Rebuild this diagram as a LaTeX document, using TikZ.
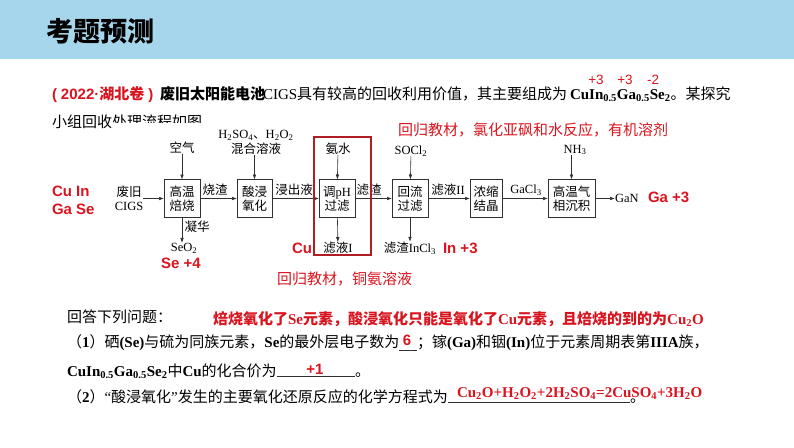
\documentclass[tikz,border=0pt]{standalone}
\usepackage{fontspec}
\setmainfont{Liberation Serif}
\newfontfamily\cjk{Noto Sans CJK SC}
\newfontfamily\arl{Liberation Sans}
\usetikzlibrary{arrows.meta}
\definecolor{hdr}{HTML}{A6D6EC}
\definecolor{rd}{HTML}{D9141E}
\definecolor{rbox}{HTML}{B01E24}
\definecolor{ln}{HTML}{303030}
\newcommand\sbs[1]{\textsubscript{#1}}
\begin{document}
\begin{tikzpicture}[x=1pt,y=-1pt,
 every node/.style={inner sep=0pt, outer sep=0pt},
 lab/.style={font=\fontsize{12.5}{14}\selectfont\cjk, align=center},
 box/.style={lab, draw=ln, line width=0.8pt, minimum height=38pt},
 arr/.style={draw=ln, line width=0.6pt, -{Latex[length=5pt,width=3.6pt]}},
 q/.style={font=\fontsize{15}{18}\selectfont, anchor=base west},
 redlab/.style={text=rd, font=\arl\bfseries\fontsize{15}{18}\selectfont},
 redsm/.style={text=rd, font=\arl\fontsize{13.5}{15}\selectfont},
 rednote/.style={text=rd, font=\fontsize{15}{18}\selectfont\cjk, anchor=west},
 ul/.style={draw=ln, line width=0.7pt},
]
\useasboundingbox (0,0) rectangle (794,447);
% header
\fill[hdr] (0,0) rectangle (794,59);
\node[font=\fontsize{27}{30}\selectfont\cjk\bfseries, anchor=west] (title) at (46,31) {考题预测};

% line 1
\node[q, text=rd] (t1) at (52,99) {\arl\bfseries (\hspace{4pt}2022·{\cjk 湖北卷}\hspace{4pt})};
\node[q] (t2) at (160,99) {\cjk\bfseries 废旧太阳能电池};
\node[q] (t3) at (263,99) {CIGS{\cjk 具有较高的回收利用价值，其主要组成为}};
\node[q] (t4) at (570,99) {\bfseries CuIn\sbs{0.5}Ga\sbs{0.5}Se\sbs{2}};
\node[q] (t5) at (t4.base east) {\cjk 。某探究};
\node[redsm] (o1) at (596,79.5) {+3};
\node[redsm] (o2) at (625,79.5) {+3};
\node[redsm] (o3) at (653,79.5) {-2};

% line 2 (partly hidden)
\begin{scope}
\clip (40,100) rectangle (111,140) (111,100) rectangle (300,122.5);
\node[q] (t6) at (52,127) {\cjk 小组回收处理流程如图。};
\end{scope}

% flow chart
\node[box, minimum width=36pt] (b1) at (182,198.5) {高温\\焙烧};
\node[box, minimum width=35pt] (b2) at (254.5,198.5) {酸浸\\氧化};
\node[box, minimum width=36pt] (b3) at (337,198.5) {调{\rmfamily pH}\\过滤};
\node[box, minimum width=36pt] (b4) at (410,198.5) {回流\\过滤};
\node[box, minimum width=32pt] (b5) at (486,198.5) {浓缩\\结晶};
\node[box, minimum width=47pt] (b6) at (571.5,198.5) {高温气\\相沉积};

\node[lab] (cigs) at (129,198.5) {废旧\\{\rmfamily CIGS}};
\node[lab] (air) at (182,148) {空气};
\node[lab, font=\fontsize{12.5}{15}\selectfont\cjk] (mix) at (256,142.5) {{\rmfamily H\sbs{2}SO\sbs{4}}、{\rmfamily H\sbs{2}O\sbs{2}}\\混合溶液};
\node[lab] (nh) at (338,149) {氨水};
\node[lab] (socl) at (411,151) {\rmfamily SOCl\sbs{2}};
\node[lab] (nh3) at (575,150) {\rmfamily NH\sbs{3}};

\node[lab] (l1) at (215,190) {烧渣};
\node[lab] (l2) at (294,190) {浸出液};
\node[lab] (l3) at (369,190) {滤渣};
\node[lab] (l4) at (448,190) {滤液{\rmfamily II}};
\node[lab] (l5) at (526,190) {\rmfamily GaCl\sbs{3}};
\node[lab, anchor=west] (gan) at (615,198.5) {\rmfamily GaN};

\node[lab] (seo2) at (184,248) {\rmfamily SeO\sbs{2}};
\node[lab] (ning) at (197,227) {凝华};
\node[lab] (f1) at (338,248) {滤液{\rmfamily I}};
\node[lab] (f2) at (410,248) {滤渣{\rmfamily InCl\sbs{3}}};

\draw[arr] (cigs) -- (b1);
\draw[arr] (b1) -- (b2);
\draw[arr] (b2) -- (b3);
\draw[arr] (b3) -- (b4);
\draw[arr] (b4) -- (b5);
\draw[arr] (b5) -- (b6);
\draw[arr] (b6) -- (gan);
\draw[arr] (air) -- (b1);
\draw[arr] (b2.north |- mix.south) -- (b2.north);
\draw[arr] (nh) -- (b3);
\draw[arr] (socl) -- (b4);
\draw[arr] (b6.north |- nh3.south) -- (b6.north);
\draw[arr] (b1.south) -- (b1.south |- seo2.north);
\draw[arr] (b3) -- (f1);
\draw[arr] (b4) -- (f2);

% red annotations
\draw[rbox, line width=1.8pt] (314,137) rectangle (371,255);
\node[rednote] (n1) at (398,130) {回归教材，氯化亚砜和水反应，有机溶剂};
\node[rednote] (n2) at (277,279) {回归教材，铜氨溶液};
\node[redlab, anchor=west] (r1) at (52,191) {Cu In};
\node[redlab, anchor=west] (r2) at (52,209) {Ga Se};
\node[redlab] (r3) at (181,263) {Se +4};
\node[redlab] (r4) at (302,248) {Cu};
\node[redlab, anchor=west] (r5) at (443,248) {In +3};
\node[redlab, anchor=west] (r6) at (648,197) {Ga +3};

% questions
\node[q] (q0) at (67,322) {\cjk 回答下列问题：};
\node[q, text=rd] (qn) at (213,324) {\bfseries{\cjk 焙烧氧化了}Se{\cjk 元素，酸浸氧化只能是氧化了}Cu{\cjk 元素，且焙烧的到的为}Cu\sbs{2}O};

\node[q] (q1a) at (67,347) {{\cjk （}\textbf{1}{\cjk ）硒}\textbf{(Se)}{\cjk 与硫为同族元素，}\textbf{Se}{\cjk 的最外层电子数为}};
\node[q] (q1b) at (417,347) {{\cjk ；镓}\textbf{(Ga)}{\cjk 和铟}\textbf{(In)}{\cjk 位于元素周期表第}\textbf{IIIA}{\cjk 族，}};
\draw[ul] ([yshift=-3pt]q1a.base east) -- ([yshift=-3pt]q1b.base west);
\node[redlab] (a6) at (407,340) {6};

\node[q] (q2a) at (67,376) {\textbf{CuIn\sbs{0.5}Ga\sbs{0.5}Se\sbs{2}}{\cjk 中}\textbf{Cu}{\cjk 的化合价为}};
\node[q] (q2b) at (355,376) {\cjk 。};
\draw[ul] (q2a.base east) -- (q2b.base west);
\node[redlab] (a1) at (315,369) {+1};

\node[q] (q3a) at (67,402) {{\cjk （}\textbf{2}{\cjk ）}“{\cjk 酸浸氧化}”{\cjk 发生的主要氧化还原反应的化学方程式为}};
\node[q] (q3b) at (630,402) {\cjk 。};
\draw[ul] (q3a.base east) -- (q3b.base west);
\node[q, text=rd] (a3) at (457,397) {\bfseries Cu\sbs{2}O+H\sbs{2}O\sbs{2}+2H\sbs{2}SO\sbs{4}=2CuSO\sbs{4}+3H\sbs{2}O};
\end{tikzpicture}
\end{document}
